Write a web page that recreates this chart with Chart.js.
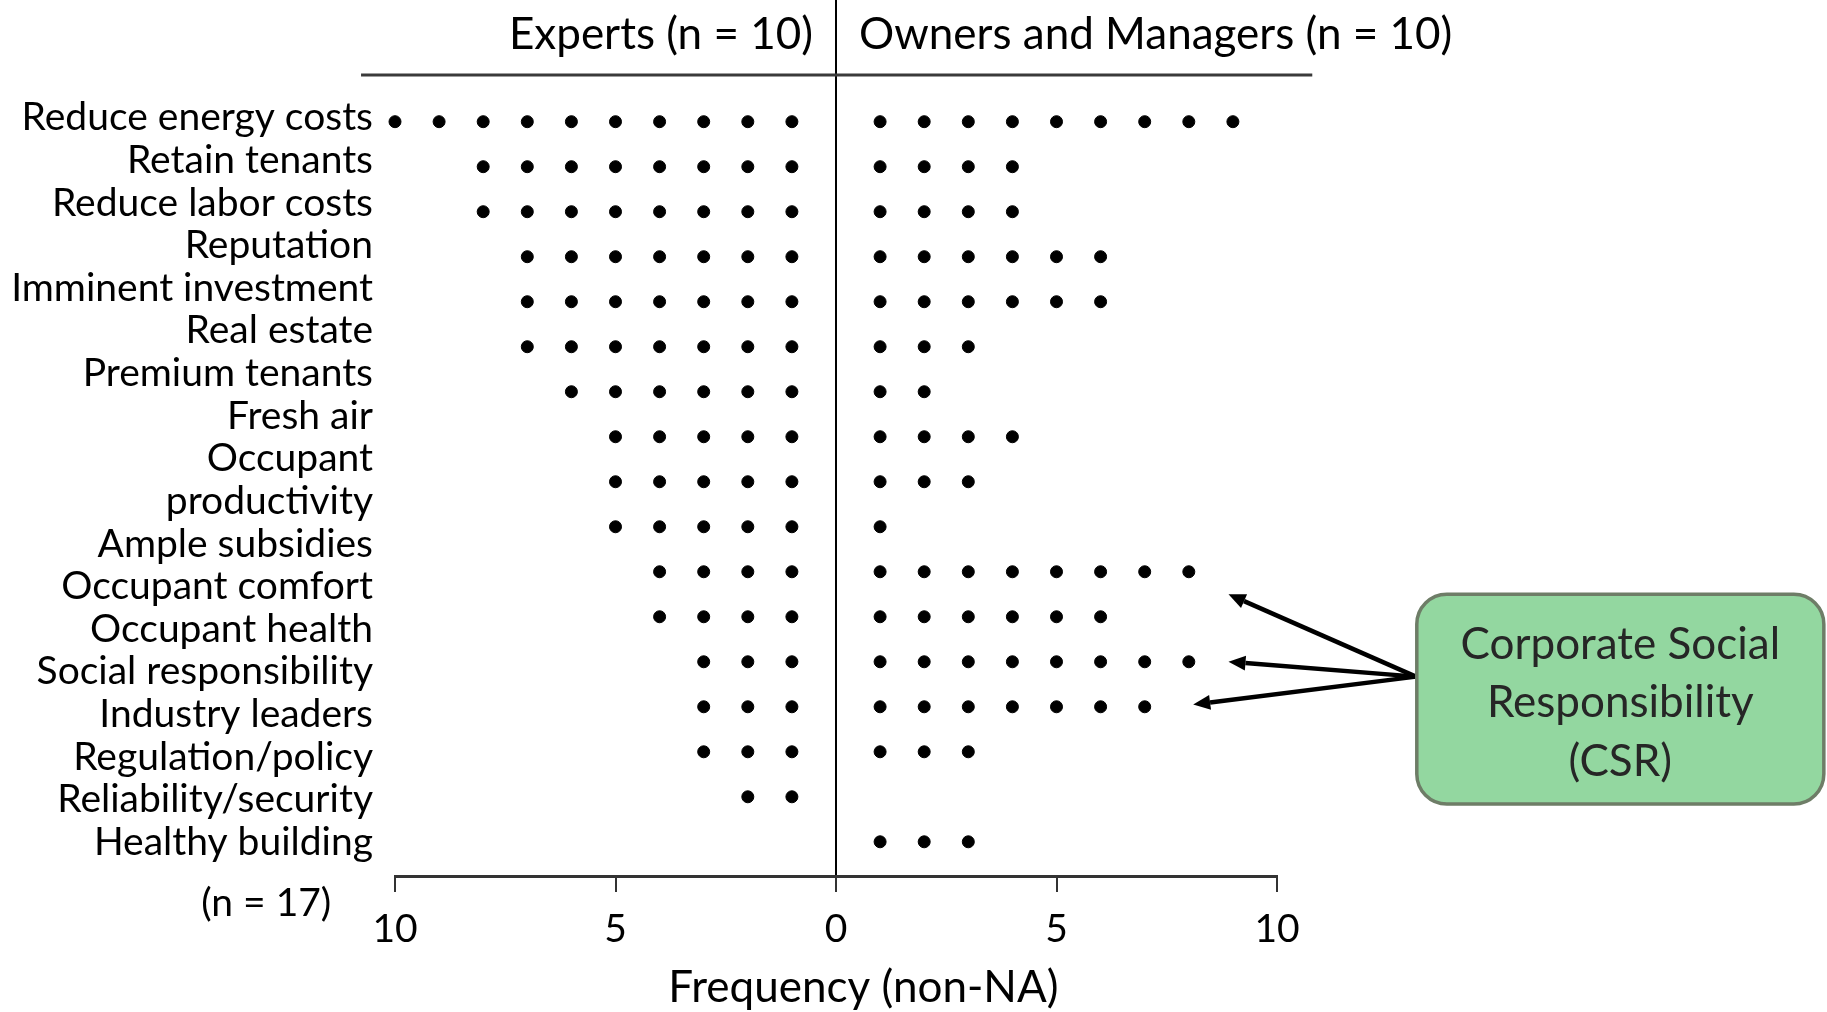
<!DOCTYPE html>
<html>
<head>
<meta charset="utf-8">
<title>Motivations - Experts vs Owners and Managers</title>
<script src="https://cdn.jsdelivr.net/npm/chart.js"></script>
<style>
  html, body { margin:0; padding:0; background:#fff; }
  canvas { display:block; }
</style>
</head>
<body>
<canvas id="chart" width="1827" height="1012"></canvas>
<script>
// rows, top to bottom (a nested array = label wrapped on two lines)
const categories = [
  'Reduce energy costs', 'Retain tenants', 'Reduce labor costs', 'Reputation',
  'Imminent investment', 'Real estate', 'Premium tenants', 'Fresh air',
  ['Occupant', 'productivity'], 'Ample subsidies', 'Occupant comfort', 'Occupant health',
  'Social responsibility', 'Industry leaders', 'Regulation/policy',
  'Reliability/security', 'Healthy building'
];
const expertCounts = [10, 8, 8, 7, 7, 7, 6, 5, 5, 5, 4, 4, 3, 3, 3, 2, 0];
const ownerCounts  = [9, 4, 4, 6, 6, 3, 2, 4, 3, 1, 8, 6, 8, 7, 3, 0, 3];
const xTicks = [-10, -5, 0, 5, 10];
const groupTitles = ['Experts (n = 10)', 'Owners and Managers (n = 10)'];
const sampleNote = '(n = 17)';
const xTitle = 'Frequency (non-NA)';
const csrText = ['Corporate Social', 'Responsibility', '(CSR)'];

const FONT = 'Lato, "Open Sans", sans-serif';
const labelLines = categories.flat();

// one dot per respondent: experts to the left of 0, owners to the right
const expertPts = [], ownerPts = [];
categories.forEach((c, i) => {
  for (let k = 1; k <= expertCounts[i]; k++) expertPts.push({x: -k, y: i});
  for (let k = 1; k <= ownerCounts[i]; k++) ownerPts.push({x: k, y: i});
});

function arrow(ctx, x0, y0, x1, y1) {
  const a = Math.atan2(y1 - y0, x1 - x0), L = 17, W = 7.5;
  const bx = x1 - L * Math.cos(a), by = y1 - L * Math.sin(a);
  ctx.beginPath(); ctx.moveTo(x0, y0); ctx.lineTo(bx, by); ctx.stroke();
  ctx.beginPath(); ctx.moveTo(x1, y1);
  ctx.lineTo(bx + W * Math.sin(a), by - W * Math.cos(a));
  ctx.lineTo(bx - W * Math.sin(a), by + W * Math.cos(a));
  ctx.closePath(); ctx.fill();
}

const overlay = {
  id: 'overlay',
  afterDraw(chart) {
    const {ctx} = chart;
    const px = v => chart.scales.x.getPixelForValue(v);
    const py = v => chart.scales.y.getPixelForValue(v);
    ctx.save();

    // header rule + group titles
    ctx.strokeStyle = '#3a3a3a'; ctx.lineWidth = 3;
    ctx.beginPath(); ctx.moveTo(px(-10.77), py(-1.04)); ctx.lineTo(px(10.8), py(-1.04)); ctx.stroke();
    ctx.fillStyle = '#000'; ctx.font = `44px ${FONT}`; ctx.textBaseline = 'middle';
    ctx.textAlign = 'right'; ctx.fillText(groupTitles[0], px(0) - 23, py(-1.93));
    ctx.textAlign = 'left'; ctx.fillText(groupTitles[1], px(0) + 23, py(-1.93));

    // n note and axis title
    ctx.textAlign = 'center';
    ctx.fillText(xTitle, px(0.62), py(19.25));
    ctx.font = `39px ${FONT}`;
    ctx.fillText(sampleNote, px(-12.92), py(17.38));

    // CSR arrows
    ctx.strokeStyle = '#000'; ctx.fillStyle = '#000'; ctx.lineWidth = 4.5;
    const from = [px(13.15), py(12.33)];
    [[8.9, 10.5], [8.9, 12.0], [8.1, 12.95]].forEach(([x, y]) => arrow(ctx, from[0], from[1], px(x), py(y)));

    // CSR box
    const l = px(13.17), r = px(22.4), t = py(10.5), b = py(15.16);
    ctx.beginPath(); ctx.roundRect(l, t, r - l, b - t, 30);
    ctx.fillStyle = '#93d7a0'; ctx.fill();
    ctx.strokeStyle = '#6e7d67'; ctx.lineWidth = 3.5; ctx.stroke();
    ctx.fillStyle = '#262626'; ctx.font = `44px ${FONT}`;
    const cx = (l + r) / 2, cy = (t + b) / 2 + 4;
    csrText.forEach((s, i) => ctx.fillText(s, cx, cy + (i - 1) * 58.5));
    ctx.restore();
  }
};

const dotStyle = {backgroundColor: '#000', borderColor: '#000', pointRadius: 6, pointHoverRadius: 6, clip: false};

new Chart(document.getElementById('chart'), {
  type: 'scatter',
  data: {
    datasets: [
      {label: groupTitles[0], data: expertPts, ...dotStyle},
      {label: groupTitles[1], data: ownerPts, ...dotStyle}
    ]
  },
  options: {
    responsive: false,
    animation: false,
    events: [],
    layout: {autoPadding: false, padding: {left: 0, right: 550, top: 0, bottom: 0}},
    plugins: {legend: {display: false}, tooltip: {enabled: false}},
    scales: {
      x: {
        type: 'linear', position: 'bottom', min: -10, max: 10,
        afterBuildTicks: s => { s.ticks = xTicks.map(v => ({value: v})); },
        ticks: {callback: v => Math.abs(v), color: '#000', padding: 14, font: {family: FONT, size: 39}},
        grid: {
          color: c => (c.tick && c.tick.value === 0 ? '#000' : 'rgba(0,0,0,0)'),
          lineWidth: 2, tickLength: 16, tickColor: '#333', tickWidth: 2
        },
        border: {display: true, color: '#333', width: 3},
        afterFit: s => { s.height = 136; s.paddingLeft = 0; s.paddingRight = 0; }
      },
      y: {type: 'linear', reverse: true, min: -2.704, max: 16.76, display: false},
      yl: {
        type: 'linear', position: 'left', reverse: true, min: -2.761, max: 17.788,
        grid: {display: false, drawTicks: false},
        border: {display: false},
        ticks: {
          stepSize: 1, includeBounds: false, autoSkip: false, padding: 22, color: '#000',
          font: {family: FONT, size: 39},
          callback: v => (Number.isInteger(v) && labelLines[v]) ? labelLines[v] : ''
        },
        afterFit: s => { s.width = 395; s.paddingTop = 0; s.paddingBottom = 0; }
      }
    }
  },
  plugins: [overlay]
});
</script>
</body>
</html>
